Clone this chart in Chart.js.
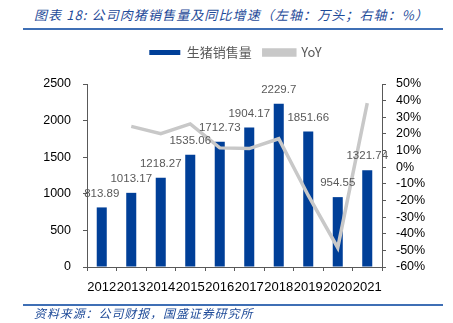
<!DOCTYPE html>
<html>
<head>
<meta charset="utf-8">
<script src="https://cdn.jsdelivr.net/npm/chart.js@4/dist/chart.umd.min.js"></script>
<style>
  body { margin: 0; background: #fff; }
  #wrap { position: relative; width: 453px; height: 323px; overflow: hidden; }
  #chart { position: absolute; left: 0; top: 0; }
  .note { position: absolute; left: 34px; font-family: "Noto Sans CJK SC", sans-serif; font-style: italic; color: #1f4b99; white-space: nowrap; }
  #title { top: 5px; font-size: 13px; letter-spacing: 1.1px; }
  #foot { top: 304px; font-size: 12px; letter-spacing: 0.9px; }
  .rule { position: absolute; left: 23px; width: 420px; height: 2px; background: #3f6fb5; }
</style>
</head>
<body>
<div id="wrap">
  <div id="title" class="note">图表 18: 公司肉猪销售量及同比增速（左轴：万头；右轴：%）</div>
  <div class="rule" style="top:28px"></div>
  <canvas id="chart" width="453" height="323"></canvas>
  <div class="rule" style="top:304px"></div>
  <div id="foot" class="note">资料来源：公司财报，国盛证券研究所</div>
</div>
<script>
let years = ["2012", "2013", "2014", "2015", "2016", "2017", "2018", "2019", "2020", "2021"];
let salesVolume = [813.89, 1013.17, 1218.27, 1535.06, 1712.73, 1904.17, 2229.7, 1851.66, 954.55, 1321.74];
let yoy = [null, 24.5, 20.2, 26.0, 11.6, 11.2, 17.1, -17.0, -48.4, 38.5];
let leftTicks = [0, 500, 1000, 1500, 2000, 2500];
let rightTicks = [-60, -50, -40, -30, -20, -10, 0, 10, 20, 30, 40, 50];

Chart.defaults.font.family = "'Liberation Sans', 'Noto Sans CJK SC', sans-serif";

// labels above bars, plus legend spacing tweaks
let barLabels = {
  id: "barLabels",
  afterInit(chart) {
    let fit = chart.legend.fit;
    chart.legend.fit = function () {
      fit.call(this);
      this.height += 15;
    };
  },
  beforeDraw(chart) {
    // legend sits a little right of centre in the original
    chart.legend.left = 18;
  },
  afterDatasetsDraw(chart) {
    let c = chart.ctx;
    let meta = chart.getDatasetMeta(0);
    c.save();
    c.font = "11.5px 'Liberation Sans', sans-serif";
    c.fillStyle = "#595959";
    c.textAlign = "center";
    c.textBaseline = "middle";
    meta.data.forEach(function (bar, i) {
      c.fillText(String(salesVolume[i]), bar.x, bar.y - 14);
    });
    c.restore();
  },
};

let axisColor = "#595959";

new Chart(document.getElementById("chart"), {
  type: "bar",
  data: {
    labels: years,
    datasets: [
      {
        label: "生猪销售量",
        data: salesVolume,
        backgroundColor: "#003f98",
        barPercentage: 0.34,
        categoryPercentage: 1,
        yAxisID: "y",
        order: 1,
      },
      {
        type: "line",
        label: "YoY",
        data: yoy,
        borderColor: "#c8c8c8",
        backgroundColor: "#c8c8c8",
        borderWidth: 3.5,
        pointRadius: 0,
        tension: 0,
        yAxisID: "y1",
        order: 0,
      },
    ],
  },
  options: {
    responsive: false,
    animation: false,
    layout: { padding: { top: 34, left: 0, right: 0, bottom: 0 } },
    plugins: {
      tooltip: { enabled: false },
      legend: {
        position: "top",
        labels: {
          boxWidth: 31,
          boxHeight: 5,
          padding: 12,
          color: "#595959",
          font: { size: 13, family: "'Noto Sans CJK SC', sans-serif" },
          sort: (a, b) => a.datasetIndex - b.datasetIndex,
        },
      },
    },
    scales: {
      x: {
        grid: { display: true, drawOnChartArea: false, tickLength: 4, color: axisColor },
        border: { color: axisColor },
        ticks: { color: "#000", font: { size: 13 }, autoSkip: false, maxRotation: 0, padding: 9 },
        afterFit(s) { s.height = 56; },
      },
      y: {
        position: "left",
        min: 0,
        max: 2500,
        afterBuildTicks(s) { s.ticks = leftTicks.map(v => ({ value: v })); },
        grid: { display: true, drawOnChartArea: false, tickLength: 4, color: axisColor },
        border: { color: axisColor },
        ticks: { color: "#000", font: { size: 12.5 }, padding: 12, autoSkip: false, callback: v => String(v) },
        afterFit(s) { s.width = 87; },
      },
      y1: {
        position: "right",
        min: -60,
        max: 50,
        afterBuildTicks(s) { s.ticks = rightTicks.map(v => ({ value: v })); },
        grid: { display: true, drawOnChartArea: false, tickLength: 4, color: axisColor },
        border: { color: axisColor },
        ticks: { color: "#000", font: { size: 12.5 }, padding: 10, autoSkip: false, callback: v => v + "%" },
        afterFit(s) { s.width = 71; },
      },
    },
  },
  plugins: [barLabels],
});
</script>
</body>
</html>
